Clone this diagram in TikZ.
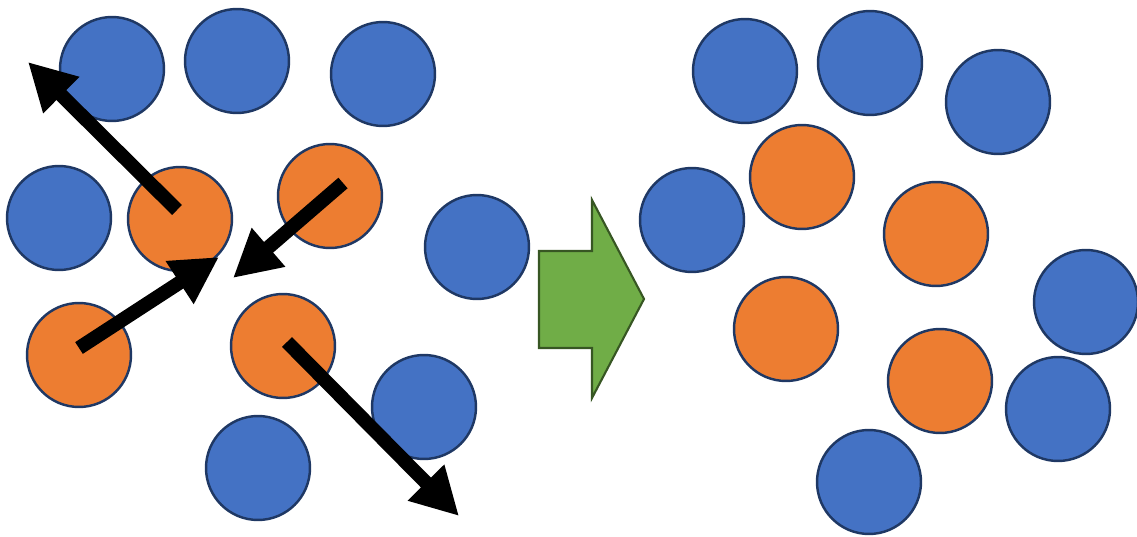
\documentclass[tikz,border=0pt]{standalone}
\usepackage{tikz}
\usepackage{xcolor}
\usetikzlibrary{arrows.meta}
\definecolor{ballblue}{HTML}{4472C4}
\definecolor{ballorange}{HTML}{ED7D31}
\definecolor{balledge}{HTML}{1F3864}
\definecolor{stepgreen}{HTML}{70AD47}
\definecolor{stepedge}{HTML}{375623}
\tikzset{
  ball/.style={circle, draw=balledge, line width=1.4pt, minimum size=2.08cm, inner sep=0pt},
  blueball/.style={ball, fill=ballblue},
  orangeball/.style={ball, fill=ballorange},
  kick/.style={line width=0.28cm, line cap=butt, -{Triangle[length=0.94cm, width=0.96cm]}}
}
\begin{document}
\begin{tikzpicture}[x=0.02cm, y=-0.02cm]
        \useasboundingbox (0,0) rectangle (1137,537);

        % before
        \node [blueball] (b1) at (112,69) {};
        \node [blueball] (b2) at (237,61) {};
        \node [blueball] (b3) at (383,74) {};
        \node [blueball] (b4) at (59,218) {};
        \node [blueball] (b5) at (477,247) {};
        \node [blueball] (b6) at (424,407) {};
        \node [blueball] (b7) at (258,468) {};

        \node [orangeball] (o1) at (180,219) {};
        \node [orangeball] (o2) at (330,196) {};
        \node [orangeball] (o3) at (79,355) {};
        \node [orangeball] (o4) at (283,346) {};

        \coordinate (t1) at (177,210);
        \coordinate (h1) at (28,62);
        \coordinate (t2) at (343,183);
        \coordinate (h2) at (233,278);
        \coordinate (t3) at (79,348);
        \coordinate (h3) at (219,257);
        \coordinate (t4) at (287,342);
        \coordinate (h4) at (459,516);
        \draw [kick] (t1) -- (h1);
        \draw [kick] (t2) -- (h2);
        \draw [kick] (t3) -- (h3);
        \draw [kick] (t4) -- (h4);

        % step
        \draw [stepedge, fill=stepgreen, line width=1.2pt, line join=miter]
          (539,251) -- (592,251) -- (592,200) -- (644,299) -- (592,398) -- (592,348) -- (539,348) -- cycle;

        % after
        \node [blueball] (c1) at (745,71) {};
        \node [blueball] (c2) at (870,63) {};
        \node [blueball] (c3) at (998,102) {};
        \node [blueball] (c4) at (692,220) {};
        \node [blueball] (c5) at (1086,302) {};
        \node [blueball] (c6) at (1058,409) {};
        \node [blueball] (c7) at (869,482) {};

        \node [orangeball] (p1) at (802,177) {};
        \node [orangeball] (p2) at (936,234) {};
        \node [orangeball] (p3) at (786,329) {};
        \node [orangeball] (p4) at (940,381) {};
    \end{tikzpicture}
\end{document}
